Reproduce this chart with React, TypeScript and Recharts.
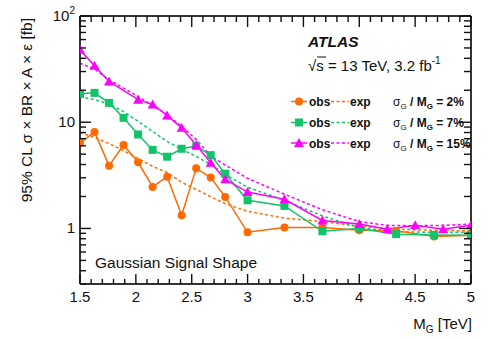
import React from 'react';
import { LineChart, Line, XAxis, YAxis } from 'recharts';

const FONT = '"Liberation Sans", Arial, Helvetica, sans-serif';
const ORANGE = '#ff6a00';
const GREEN = '#11c46a';
const MAGENTA = '#ff00ff';
const AX = '#333';
const TK = '#111';
const PLOT_W = 391;
const PLOT_H = 268;

// masses (TeV)
const massA = [1.5, 1.63, 1.76, 1.89, 2.02, 2.15, 2.28, 2.41, 2.54, 2.67, 2.8, 3.0, 3.33, 3.67, 4.0, 4.33, 4.67, 5.0];
const massB = [1.5, 1.63, 1.76, 2.02, 2.15, 2.28, 2.41, 2.54, 2.67, 2.8, 3.0, 3.33, 3.67, 4.0, 4.25, 4.5, 4.75, 5.0];

// sigma_G / M_G = 2%
const obs2 = [6.4, 8.1, 3.9, 6.1, 4.2, 2.46, 3.07, 1.33, 3.68, 3.01, 1.98, 0.92, 1.02, 1.02, 0.96, 0.95, 0.84, 0.865];
const exp2 = [7.97, 7.2, 6.3, 5.4, 4.56, 3.84, 3.37, 2.72, 2.33, 1.99, 1.71, 1.45, 1.25, 1.16, 1.05, 0.985, 0.96, 0.95];
// sigma_G / M_G = 7%
const obs7 = [18.5, 18.9, 15.2, 11.0, 7.67, 5.49, 4.74, 5.63, 5.96, 4.9, 3.28, 1.84, 1.63, 0.94, 1.0, 0.884, 0.87, 0.865];
const exp7 = [17.4, 16.3, 14.9, 12.6, 10.2, 8.18, 6.59, 5.55, 4.77, 4.01, 3.23, 2.44, 1.84, 1.31, 1.02, 0.93, 0.92, 0.92];
// sigma_G / M_G = 15%
const obs15 = [48.1, 34.0, 24.2, 16.3, 14.7, 11.6, 8.86, 6.1, 4.16, 2.9, 2.2, 1.88, 1.19, 1.1, 0.985, 1.07, 0.985, 1.07];
const exp15 = [36, 31.7, 25, 17.5, 14.3, 11.8, 9.1, 6.9, 4.8, 3.95, 2.96, 2.1, 1.5, 1.16, 1.07, 1.06, 1.07, 1.1];

const xMajor = [1.5, 2, 2.5, 3, 3.5, 4, 4.5, 5];
const xLabels = ['1.5', '2', '2.5', '3', '3.5', '4', '4.5', '5'];
const xTicks = [1.5, 1.6, 1.7, 1.8, 1.9, 2, 2.1, 2.2, 2.3, 2.4, 2.5, 2.6, 2.7, 2.8, 2.9, 3, 3.1, 3.2, 3.3, 3.4, 3.5, 3.6, 3.7, 3.8, 3.9, 4, 4.1, 4.2, 4.3, 4.4, 4.5, 4.6, 4.7, 4.8, 4.9, 5];
const yMajor = [1, 10, 100];
const yTicks = [0.3, 0.4, 0.5, 0.6, 0.7, 0.8, 0.9, 1, 2, 3, 4, 5, 6, 7, 8, 9, 10, 20, 30, 40, 50, 60, 70, 80, 90, 100];

const pts = (ms: number[], vs: number[]) => ms.map((m, i) => ({ m, v: vs[i] }));

const isMajorX = (v: number) => xMajor.some((t) => Math.abs(t - v) < 1e-6);
const isMajorY = (v: number) => yMajor.some((t) => Math.abs(t - v) < 1e-9);

const BottomTick = (p: any) => {
  const v = p.payload.value;
  const idx = xMajor.findIndex((t) => Math.abs(t - v) < 1e-6);
  if (idx < 0) return <g />;
  return (
    <text x={p.x} y={p.y + 18} textAnchor="middle" fontSize={15} fontFamily={FONT} fill="#111">
      {xLabels[idx]}
    </text>
  );
};

// top axis draws the inward ticks of both the top and the bottom frame edges
const TopTick = (p: any) => {
  const v = p.payload.value;
  const len = isMajorX(v) ? 10 : 5;
  return (
    <g>
      <line x1={p.x} x2={p.x} y1={p.y} y2={p.y + len + 1} stroke={TK} strokeWidth={1.4} />
      <line x1={p.x} x2={p.x} y1={p.y + PLOT_H} y2={p.y + PLOT_H - len} stroke={TK} strokeWidth={1.4} />
    </g>
  );
};

const LeftTick = (p: any) => {
  const v = p.payload.value;
  if (!isMajorY(v)) return <g />;
  if (v === 100) {
    return (
      <text x={p.x - 5} y={p.y + 5} textAnchor="end" fontSize={15} fontFamily={FONT} fill="#111">
        10<tspan fontSize={10} dy={-7}>2</tspan>
      </text>
    );
  }
  return (
    <text x={p.x - 5} y={p.y + 5} textAnchor="end" fontSize={15} fontFamily={FONT} fill="#111">
      {String(v)}
    </text>
  );
};

// right axis draws the inward ticks of both the right and the left frame edges
const RightTick = (p: any) => {
  const v = p.payload.value;
  const maj = isMajorY(v);
  return (
    <g>
      <line x1={p.x} x2={p.x - (maj ? 12 : 7)} y1={p.y} y2={p.y} stroke={TK} strokeWidth={1.4} />
      <line x1={p.x - PLOT_W} x2={p.x - PLOT_W + (maj ? 11 : 6)} y1={p.y} y2={p.y} stroke={TK} strokeWidth={1.4} />
    </g>
  );
};

const Circle = ({ cx, cy, c }: any) => <circle cx={cx} cy={cy} r={4} fill={c} />;
const Square = ({ cx, cy, c }: any) => <rect x={cx - 4} y={cy - 4} width={8} height={8} fill={c} />;
const Tri = ({ cx, cy, c }: any) => (
  <polygon points={`${cx},${cy - 5} ${cx + 5},${cy + 4} ${cx - 5},${cy + 4}`} fill={c} />
);

const rows = [
  { y: 101.5, c: ORANGE, M: Circle, pct: '2%' },
  { y: 122.5, c: GREEN, M: Square, pct: '7%' },
  { y: 143, c: MAGENTA, M: Tri, pct: '15%' },
];

export default function App() {
  return (
    <div style={{ position: 'absolute', left: 0, top: 0, width: 498, height: 339, background: '#fff' }}>
      <LineChart width={498} height={339} margin={{ top: 15, right: 26, bottom: 0, left: 0 }}>
        <XAxis xAxisId="b" dataKey="m" type="number" domain={[1.5, 5]} allowDataOverflow ticks={xTicks} interval={0}
          orientation="bottom" height={55} tickSize={0} tickMargin={0} tickLine={false}
          axisLine={{ stroke: AX, strokeWidth: 2 }} tick={BottomTick} />
        <XAxis xAxisId="t" dataKey="m" type="number" domain={[1.5, 5]} allowDataOverflow ticks={xTicks} interval={0}
          orientation="top" height={1} tickSize={0} tickMargin={0} tickLine={false}
          axisLine={{ stroke: AX, strokeWidth: 2 }} tick={TopTick} />
        <YAxis yAxisId="l" type="number" scale="log" domain={[0.3, 100]} allowDataOverflow ticks={yTicks} interval={0}
          width={80} tickSize={0} tickMargin={0} tickLine={false}
          axisLine={{ stroke: AX, strokeWidth: 2 }} tick={LeftTick} />
        <YAxis yAxisId="r" orientation="right" type="number" scale="log" domain={[0.3, 100]} allowDataOverflow ticks={yTicks} interval={0}
          width={1} tickSize={0} tickMargin={0} tickLine={false}
          axisLine={{ stroke: AX, strokeWidth: 2 }} tick={RightTick} />

        <Line xAxisId="t" yAxisId="r" data={pts(massA, exp2)} dataKey="v" stroke={ORANGE} strokeWidth={1.5} strokeDasharray="3 2.5" dot={false} isAnimationActive={false} />
        <Line xAxisId="t" yAxisId="r" data={pts(massA, exp7)} dataKey="v" stroke={GREEN} strokeWidth={1.5} strokeDasharray="3 2.5" dot={false} isAnimationActive={false} />
        <Line xAxisId="t" yAxisId="r" data={pts(massB, exp15)} dataKey="v" stroke={MAGENTA} strokeWidth={1.5} strokeDasharray="3 2.5" dot={false} isAnimationActive={false} />

        <Line xAxisId="b" yAxisId="l" data={pts(massA, obs2)} dataKey="v" stroke={ORANGE} strokeWidth={1.5}
          dot={(p: any) => <Circle key={'o' + p.index} cx={p.cx} cy={p.cy} c={ORANGE} />} isAnimationActive={false} />
        <Line xAxisId="b" yAxisId="l" data={pts(massA, obs7)} dataKey="v" stroke={GREEN} strokeWidth={1.5}
          dot={(p: any) => <Square key={'g' + p.index} cx={p.cx} cy={p.cy} c={GREEN} />} isAnimationActive={false} />
        <Line xAxisId="b" yAxisId="l" data={pts(massB, obs15)} dataKey="v" stroke={MAGENTA} strokeWidth={1.5}
          dot={(p: any) => <Tri key={'m' + p.index} cx={p.cx} cy={p.cy} c={MAGENTA} />} isAnimationActive={false} />
      </LineChart>

      <svg width={498} height={339} style={{ position: 'absolute', left: 0, top: 0, pointerEvents: 'none' }}>
        <text x={32} y={18} transform="rotate(-90 32 18)" textAnchor="end" fontSize={15.5} fontFamily={FONT} fill="#111">
          95% CL σ × BR × A × ε [fb]
        </text>
        <text x={472} y={329} textAnchor="end" fontSize={15} fontFamily={FONT} fill="#111">
          M<tspan fontSize={10} dy={4}>G</tspan><tspan dy={-4}> [TeV]</tspan>
        </text>
        <text x={308} y={47} fontSize={15.5} fontWeight="bold" fontStyle="italic" fontFamily={FONT} fill="#111">ATLAS</text>
        <text x={308} y={71} fontSize={15} fontFamily={FONT} fill="#111">
          √s = 13 TeV, 3.2 fb<tspan fontSize={10} dy={-7}>-1</tspan>
        </text>
        <line x1={317} x2={326} y1={57} y2={57} stroke="#111" strokeWidth={1} />
        <text x={95} y={268} fontSize={15.5} fontFamily={FONT} fill="#111">Gaussian Signal Shape</text>
        {rows.map((r) => {
          const M = r.M;
          return (
            <g key={r.pct}>
              <line x1={291} x2={307} y1={r.y} y2={r.y} stroke={r.c} strokeWidth={1.5} />
              <M cx={299} cy={r.y} c={r.c} />
              <text x={309} y={r.y + 4.5} fontSize={12} fontWeight="bold" fontFamily={FONT} fill="#111">obs</text>
              <line x1={331} x2={349} y1={r.y} y2={r.y} stroke={r.c} strokeWidth={1.5} strokeDasharray="3 2.5" />
              <text x={350} y={r.y + 4.5} fontSize={12} fontWeight="bold" fontFamily={FONT} fill="#111">exp</text>
              <text x={393} y={r.y + 4.5} fontSize={12} fontFamily={FONT} fill="#111">
                σ<tspan fontSize={8} dy={3}>G</tspan>
                <tspan dy={-3} fontWeight="bold"> / M</tspan>
                <tspan fontSize={8} dy={3} fontWeight="bold">G</tspan>
                <tspan dy={-3} fontWeight="bold"> = {r.pct}</tspan>
              </text>
            </g>
          );
        })}
      </svg>
    </div>
  );
}
